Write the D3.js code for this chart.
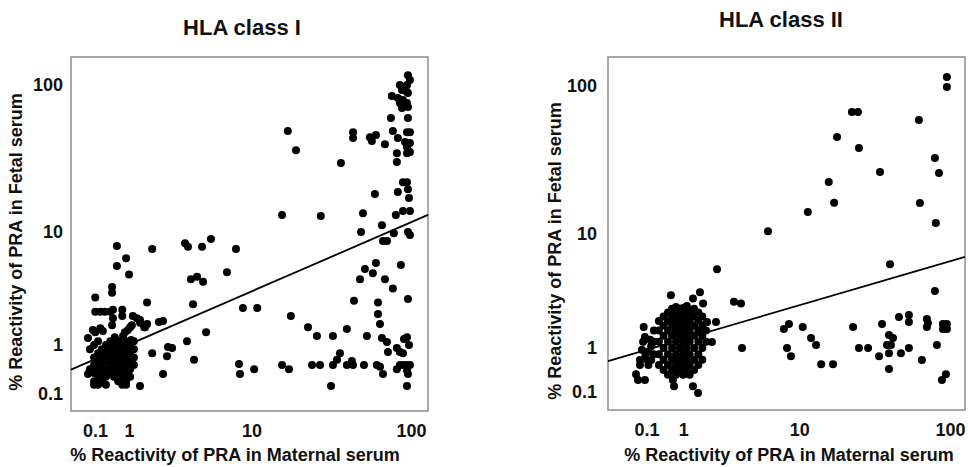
<!DOCTYPE html>
<html>
<head>
<meta charset="utf-8">
<script src="https://cdn.jsdelivr.net/npm/d3@7"></script>
<style>
  body { margin: 0; background: #fff; }
  text { font-family: "Liberation Sans", Arial, sans-serif; font-weight: bold; fill: #111; }
</style>
</head>
<body>
<svg id="chart" width="968" height="467"></svg>
<script>
// ---- data --------------------------------------------------------------
// axis ticks (both axes, both panels)
var tickValues = [0.1, 1, 10, 100];
var tickLabels = ["0.1", "1", "10", "100"];

var titles = ["HLA class I", "HLA class II"];
var xTitle = "% Reactivity of PRA in Maternal serum";
var yTitle = "% Reactivity of PRA in Fetal serum";

// HLA class I : [maternal %, fetal %]
var classI = [
  [95.8,116],[98.5,108],[94.5,100],[85.5,100],[88.1,92.5],[94.5,89.8],[95.8,88.4],[76.4,84.5],
  [83.1,82],[89.3,79.4],[85.5,75.9],[94.5,75.9],[88.1,70.3],[95.8,71.4],[75.4,60.4],[95.8,60.4],
  [17.2,49.4],[19.4,36.8],[44.1,48.6],[44.1,44.4],[56,45],[57.6,42.4],[61,46.5],[69.3,40.4],
  [77.5,49.4],[94.5,48.6],[98.5,48.6],[83.1,44.4],[91.9,41.7],[94.5,38.6],[98.5,41.1],[94.5,35.1],
  [98.5,35.7],[82,35.1],[82,30.6],[37.1,30.1],[89.3,22.3],[94.5,22.3],[83.1,19.1],[95.8,20],
  [97.2,17.4],[60.1,18.5],[15.8,13.2],[27.8,13],[50.8,13.6],[80.8,13.2],[89.3,14.1],[98.5,14.1],
  [66.4,11.2],[49.4,10],[78.6,9.8],[95.8,10],[98.5,9.5],[67.4,8.6],[71.3,8.6],[61,5.9],
  [52.2,5.3],[58.4,4.9],[86.7,5.7],[48.7,4.4],[69.3,4.4],[77.5,3.7],[44.7,2.9],[62.8,2.8],
  [95.8,3],[18,2.1],[23.1,1.62],[26.3,1.29],[33.1,1.29],[40.4,1.55],[53.7,1.29],[62.8,2.2],
  [64.6,1.75],[66.4,1.22],[71.3,1.09],[94.5,1.25],[90.6,1.19],[97.2,1],[36.6,0.77],[72.3,0.8],
  [82,0.91],[85.5,0.8],[89.3,0.77],[15.8,0.48],[17.5,0.39],[24.5,0.48],[27.5,0.48],[33.1,0.48],
  [35.1,0.6],[40.4,0.48],[43.4,0.57],[44.1,0.48],[51.5,0.48],[61.8,0.48],[64.6,0.44],[67.4,0.29],
  [82,0.39],[85.5,0.48],[89.3,0.48],[94.5,0.48],[98.5,0.48],[94.5,0.37],[95.8,0.29],[32.2,0.08],
  [94.5,0.08],
  [0.69,7.9],[1.76,7.5],[3.36,8.3],[3.54,7.8],[4.52,7.8],[5.25,8.9],[7.85,7.5],[0.92,6.4],
  [0.69,5.6],[1,4.8],[6.81,5],[3.73,4.4],[4.15,4.6],[4.6,4.2],[0.58,3.8],[0.58,3.4],
  [0.25,3.1],[1.57,2.8],[3.87,2.7],[8.75,2.5],[10.9,2.5],[0.25,2.3],[0.34,2.3],[0.43,2.3],
  [0.54,2.3],[0.6,2.4],[0.82,2.4],[0.82,2.1],[1.11,2.1],[1.23,2],[1.33,1.92],[1.57,1.75],
  [1.47,1.62],[0.6,2],[0.58,1.7],[2.21,1.87],[0.21,1.51],[0.34,1.58],[0.39,1.47],[0.13,1.22],
  [4.84,1.43],[3.48,1.12],[2.64,0.91],[2.39,0.69],[1.76,0.77],[3.94,0.6],[2.21,0.29],[8.23,0.5],
  [8.36,0.29],[10.4,0.39],[1.33,0.08],[0.13,0.29],
  [0.64,1.25],[0.84,1.29],[0.97,1.51],[1.03,1.62],[1.06,1.16],[0.25,1.43],[0.89,1.43],[1.08,1.7],
  [1.33,1.8],[1.5,1.62],[2.03,1.83],[2.44,0.94],
  [0.3,1.12],[0.54,1.12],[0.72,1.12],[0.92,1.12],[1.14,1.12],
  [0.23,1],[0.45,1],[0.62,1],[0.82,1],[1.03,1],
  [0.16,0.88],[0.37,0.88],[0.54,0.88],[0.72,0.88],[0.92,0.88],[1.14,0.88],
  [0.3,0.77],[0.45,0.77],[0.62,0.77],[0.82,0.77],[1.03,0.77],
  [0.23,0.66],[0.37,0.66],[0.54,0.66],[0.72,0.66],[0.92,0.66],[1.14,0.66],
  [0.3,0.57],[0.45,0.57],[0.62,0.57],[0.82,0.57],[1.03,0.57],
  [0.23,0.48],[0.37,0.48],[0.54,0.48],[0.72,0.48],[0.92,0.48],[1.14,0.48],
  [0.16,0.39],[0.3,0.39],[0.45,0.39],[0.62,0.39],[0.82,0.39],[1.03,0.39],
  [0.23,0.31],[0.37,0.31],[0.54,0.31],[0.72,0.31],[0.92,0.31],
  [0.3,0.24],[0.45,0.24],[0.62,0.24],[0.82,0.24],[1.03,0.24],
  [0.23,0.16],[0.37,0.16],[0.72,0.16],[0.92,0.16],
  [0.23,0.1],[0.3,0.1],[0.45,0.1],[0.82,0.1],[0.92,0.1]
];

// HLA class II : [maternal %, fetal %]
var classII = [
  [95.5,114.6],[95.5,98.5],[22.9,67.4],[25.1,67.4],[63,59.7],[18.2,46.1],[25.5,38.9],[79.9,33.4],
  [35.1,26.9],[84.9,26.5],[16,23],
  [17.4,16.6],[11.5,14.3],[63.9,16.5],[81,12],[5.96,10.5],[40.8,6],[2.29,5.5],[79.9,3.7],
  [1.56,3.6],[0.67,3.4],[1.31,3.2],[3.22,3],[3.68,2.9],[1.68,2.9],[0.8,2.7],[1,2.64],
  [1.11,2.75],[1.84,1.95],[2.24,1.95],[0.12,1.74],[7.79,1.66],[8.47,1.86],[10.6,1.74],[12.1,1.32],
  [13.1,1.09],[8.2,1],[8.75,0.77],[3.75,1],[2.05,1.19],[14.2,0.57],[17.1,0.57],[23.3,1.74],
  [25.5,1],[29.3,1],[34.6,0.77],[36.2,1.86],[40.2,1.43],[42.7,1.32],[39,1.09],[41.4,1.09],
  [40.2,0.85],[40.2,0.46],[46.7,2.18],[48.1,0.85],[54.2,2.28],[54.2,1.95],[54.2,1],[65.8,0.67],
  [70.9,2.09],[70.9,1.74],[72,1.91],[82.3,1.09],[90,1.86],[95.5,1.86],[95.5,1.66],[90,1.66],
  [94.1,0.35],[88.7,0.24],[0,0.35],[0.03,0.24],[0.14,0.24],[1.31,0.13],[1.49,0.02],[0.72,0.24],
  [0.75,0.13],[0.14,1.36],[0.23,1.26],[0.06,0.67],[0.11,1.2],[0.09,0.95],[0.14,0.7],[0.06,0.55],
  [0.15,0.81],[0.25,0.67],[0.2,0.55],[0.25,1.05],[0.2,0.9],
  [0.7,2.6],[0.9,2.6],[1.1,2.6],[1.35,2.6],
  [0.6,2.4],[0.8,2.4],[1,2.4],[1.2,2.4],[1.5,2.4],
  [0.5,2.2],[0.7,2.2],[0.9,2.2],[1.1,2.2],[1.35,2.2],[1.65,2.2],
  [0.4,2],[0.6,2],[0.8,2],[1,2],[1.2,2],[1.5,2],
  [0.5,1.8],[0.7,1.8],[0.9,1.8],[1.1,1.8],[1.35,1.8],[1.65,1.8],
  [0.3,1.6],[0.4,1.6],[0.6,1.6],[0.8,1.6],[1,1.6],[1.2,1.6],[1.5,1.6],[1.8,1.6],
  [0.5,1.4],[0.7,1.4],[0.9,1.4],[1.1,1.4],[1.35,1.4],[1.65,1.4],
  [0.3,1.2],[0.4,1.2],[0.6,1.2],[0.8,1.2],[1,1.2],[1.2,1.2],[1.5,1.2],[1.8,1.2],
  [0.5,1],[0.7,1],[0.9,1],[1.1,1],[1.35,1],[1.65,1],
  [0.3,0.82],[0.4,0.82],[0.6,0.82],[0.8,0.82],[1,0.82],[1.2,0.82],[1.5,0.82],
  [0.5,0.68],[0.7,0.68],[0.9,0.68],[1.1,0.68],[1.35,0.68],[1.65,0.68],
  [0.4,0.55],[0.6,0.55],[0.8,0.55],[1,0.55],[1.2,0.55],[1.5,0.55],
  [0.5,0.44],[0.7,0.44],[0.9,0.44],[1.1,0.44],[1.35,0.44],
  [0.6,0.34],[0.8,0.34],[1,0.34],[1.2,0.34]
];

// least-squares lines on log10(x+1) scale: fetal = a + b * maternal
var fitI = [0.163, 0.47];
var fitII = [0.269, 0.297];

// ---- layout ------------------------------------------------------------
var panels = [
  { frame: [71, 57, 428, 411], xr: [79.2, 411], yr: [391, 85],
    title: [242, 35], xt: [235, 461], yt: [22, 242], yPad: 8, nudgeX: 9, nudgeY: 9 },
  { frame: [608, 57, 965, 410], xr: [636, 950], yr: [394.3, 86],
    title: [781, 27], xt: [789, 461], yt: [561, 251], yPad: 11, nudgeX: 4, nudgeY: 3.5 }
];

var svg = d3.select("#chart");
var tf = function(v){ return Math.log10(v + 1); };
var tMax = tf(100);

function drawPanel(p, points, fit, title){
  var f = p.frame;
  var x = d3.scaleLinear().domain([0, tMax]).range(p.xr);
  var y = d3.scaleLinear().domain([0, tMax]).range(p.yr);
  var g = svg.append("g");

  g.append("text").attr("x", p.title[0]).attr("y", p.title[1])
    .attr("text-anchor", "middle").style("font-size", "22px").text(title);

  // frame
  g.append("rect").attr("x", f[0]).attr("y", f[1])
    .attr("width", f[2] - f[0]).attr("height", f[3] - f[1])
    .attr("fill", "none").attr("stroke", "#8c8c8c").attr("stroke-width", 1.5);

  // axes
  var xa = g.append("g").attr("transform", "translate(0," + f[3] + ")")
    .call(d3.axisBottom(x).tickValues(tickValues.map(tf))
      .tickFormat(function(d, i){ return tickLabels[i]; })
      .tickSize(0).tickPadding(13));
  var ya = g.append("g").attr("transform", "translate(" + f[0] + ",0)")
    .call(d3.axisLeft(y).tickValues(tickValues.map(tf))
      .tickFormat(function(d, i){ return tickLabels[i]; })
      .tickSize(0).tickPadding(p.yPad));
  [xa, ya].forEach(function(a){
    a.select(".domain").remove();
    a.selectAll("text").style("font-size", "18px")
      .style("font-family", "'Liberation Sans', Arial, sans-serif").style("font-weight", "bold")
      .attr("fill", "#111");
  });
  // the "0.1" labels sit a little off their tick in the original
  xa.selectAll(".tick text").filter(function(d, i){ return i === 0; }).attr("dx", p.nudgeX);
  ya.selectAll(".tick text").filter(function(d, i){ return i === 0; }).attr("y", p.nudgeY);

  g.append("text").attr("x", p.xt[0]).attr("y", p.xt[1])
    .attr("text-anchor", "middle").style("font-size", "18px").text(xTitle);
  g.append("text").attr("transform", "translate(" + p.yt[0] + "," + p.yt[1] + ") rotate(-90)")
    .attr("text-anchor", "middle").style("font-size", "18px").text(yTitle);

  // points
  g.append("g").selectAll("circle").data(points).enter().append("circle")
    .attr("cx", function(d){ return x(tf(d[0])); })
    .attr("cy", function(d){ return y(tf(d[1])); })
    .attr("r", 4).attr("fill", "#000");

  // fit line across the frame
  var t0 = x.invert(f[0]), t1 = x.invert(f[2]);
  var line = d3.line()
    .x(function(t){ return x(t); })
    .y(function(t){ return y(fit[0] + fit[1] * t); });
  g.append("path").datum([t0, t1]).attr("d", line)
    .attr("fill", "none").attr("stroke", "#000").attr("stroke-width", 1.8);
}

drawPanel(panels[0], classI, fitI, titles[0]);
drawPanel(panels[1], classII, fitII, titles[1]);
</script>
</body>
</html>
